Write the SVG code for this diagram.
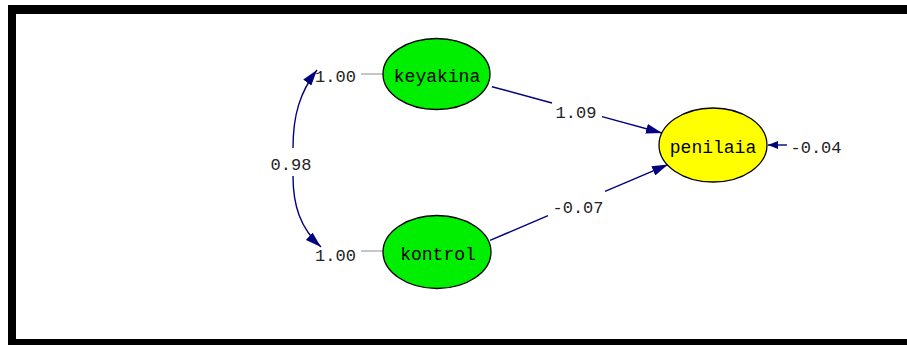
<svg xmlns="http://www.w3.org/2000/svg" width="907" height="345" viewBox="0 0 907 345">
<defs>
<style>
.frame{fill:#000}
.lat{stroke:#000;stroke-width:1.3}
.green{fill:#00ee00}
.yellow{fill:#ffff00}
.lbl{font-family:"Liberation Mono","DejaVu Sans Mono",monospace;font-size:18px;fill:#000;text-anchor:middle}
.num{font-family:"Liberation Mono","DejaVu Sans Mono",monospace;font-size:17px;fill:#222;text-anchor:middle}
.path{fill:none;stroke:#000080;stroke-width:1.4}
.fix{fill:none;stroke:#a0a0a0;stroke-width:1.2}
</style>
<marker id="ah" viewBox="0 0 16 10" markerUnits="userSpaceOnUse" markerWidth="16" markerHeight="10" refX="16" refY="5" orient="auto">
<path d="M0,0 L16,5 L0,10 Z" fill="#000080"/>
</marker>
<marker id="ahs" viewBox="0 0 10 8" markerUnits="userSpaceOnUse" markerWidth="10" markerHeight="8" refX="10" refY="4" orient="auto">
<path d="M0,0 L10,4 L0,8 Z" fill="#000080"/>
</marker>
</defs>
<rect width="907" height="345" fill="#fff"/>
<path class="frame" d="M8,5 H907 V14 H16 V339 H907 V345 H8 Z"/>
<g id="connectors">
<path class="path" d="M293,148 C293,115 300,92 317,70" marker-end="url(#ah)"/>
<path class="path" d="M293,176 C293,205 300,228 321,247" marker-end="url(#ah)"/>
<text class="num" x="291" y="170">0.98</text>
<line class="fix" x1="361" y1="74" x2="383" y2="74"/>
<line class="fix" x1="361" y1="251" x2="383" y2="251"/>
<text class="num" x="335.5" y="82">1.00</text>
<text class="num" x="335.5" y="261">1.00</text>
<line class="path" x1="492" y1="86.7" x2="552" y2="103"/>
<line class="path" x1="602" y1="116.6" x2="662" y2="133" marker-end="url(#ah)"/>
<text class="num" x="576" y="118">1.09</text>
<line class="path" x1="490" y1="240.4" x2="548" y2="215.7"/>
<line class="path" x1="605" y1="191.4" x2="668" y2="164.6" marker-end="url(#ah)"/>
<text class="num" x="578" y="213">-0.07</text>
<line class="path" x1="787" y1="145" x2="768" y2="145" marker-end="url(#ahs)"/>
<text class="num" x="816" y="153">-0.04</text>
</g>
<g id="keyakina">
<ellipse class="lat green" cx="436.5" cy="74" rx="53.5" ry="35.5"/>
<text class="lbl" x="437" y="82">keyakina</text>
</g>
<g id="kontrol">
<ellipse class="lat green" cx="437" cy="252" rx="54" ry="36.5"/>
<text class="lbl" x="438" y="260">kontrol</text>
</g>
<g id="penilaia">
<ellipse class="lat yellow" cx="713" cy="145" rx="54" ry="37"/>
<text class="lbl" x="713" y="153">penilaia</text>
</g>
</svg>
